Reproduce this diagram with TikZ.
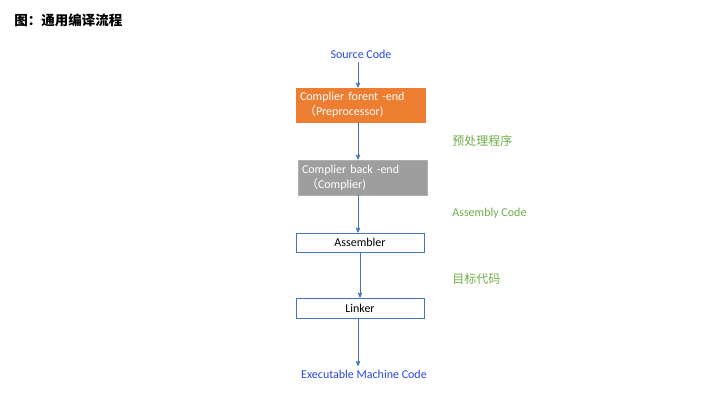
\documentclass[tikz,border=0pt]{standalone}
\usepackage{fontspec}
\setmainfont{Carlito}
\newfontfamily\cjk{Noto Sans CJK SC}
\usetikzlibrary{arrows}
\definecolor{text_blue}{RGB}{40,70,225}
\definecolor{edge_blue}{RGB}{68,114,196}
\definecolor{node_orange}{RGB}{237,125,49}
\definecolor{node_gray}{RGB}{158,158,158}
\definecolor{edge_gray}{RGB}{175,175,175}
\definecolor{label_green}{RGB}{112,173,71}

\begin{document}
\begin{tikzpicture}[x=1pt,y=-1pt,->,>=stealth',line width=0.8pt]
    \tikzstyle{io}=[text=text_blue,font=\fontsize{12}{14}\selectfont]
    \tikzstyle{stage}=[draw=edge_blue,minimum width=128pt,minimum height=20pt,inner sep=0pt,font=\fontsize{12}{14}\selectfont]
    \tikzstyle{stagefill}=[style=stage,text=white,align=left,text width=121pt,inner xsep=4pt]
    \tikzstyle{note}=[text=label_green,anchor=west,inner sep=0pt]

    \useasboundingbox (0,0) rectangle (720,405);

    \node[anchor=west,inner sep=0pt] (title) at (14,20) {\cjk\bfseries\fontsize{13.5}{15}\selectfont 图：通用编译流程};

    \node[io] (src)  at (361,54)  {Source Code};
    \node[stagefill,fill=node_orange,draw=node_orange,minimum width=129pt,minimum height=34pt] (fore) at (360.5,105)
        {Complier forent -end\\[1pt]\ {\cjk （}Preprocessor)};
    \node[stagefill,fill=node_gray,draw=edge_gray,minimum width=129pt,minimum height=35pt] (back) at (362.5,177.5)
        {Complier back -end\\[1pt]\ {\cjk （}Complier)};
    \node[stage,minimum height=19pt] (asm) at (360,242.5) {Assembler};
    \node[stage] (link) at (360,308) {Linker};
    \node[io] (exe)  at (364,374) {Executable Machine Code};

    \node[note,font=\cjk\fontsize{12}{14}\selectfont] (pre) at (452,141) {预处理程序};
    \node[note,font=\fontsize{12}{14}\selectfont] (asmcode) at (452,213) {Assembly Code};
    \node[note,font=\cjk\fontsize{12}{14}\selectfont] (obj) at (452,279) {目标代码};

    \path[every edge/.append style={edge_blue}]
     ([xshift=-3pt]src.south) edge ([xshift=-2.5pt]fore.north)
     ([xshift=-2.5pt]fore.south) edge ([xshift=-4.5pt]back.north)
     ([xshift=-4.5pt]back.south) edge ([xshift=-2pt]asm.north)
     (asm.south) edge (link.north)
     ([xshift=-2pt]link.south) edge ([xshift=-6pt]exe.north);
\end{tikzpicture}
\end{document}
